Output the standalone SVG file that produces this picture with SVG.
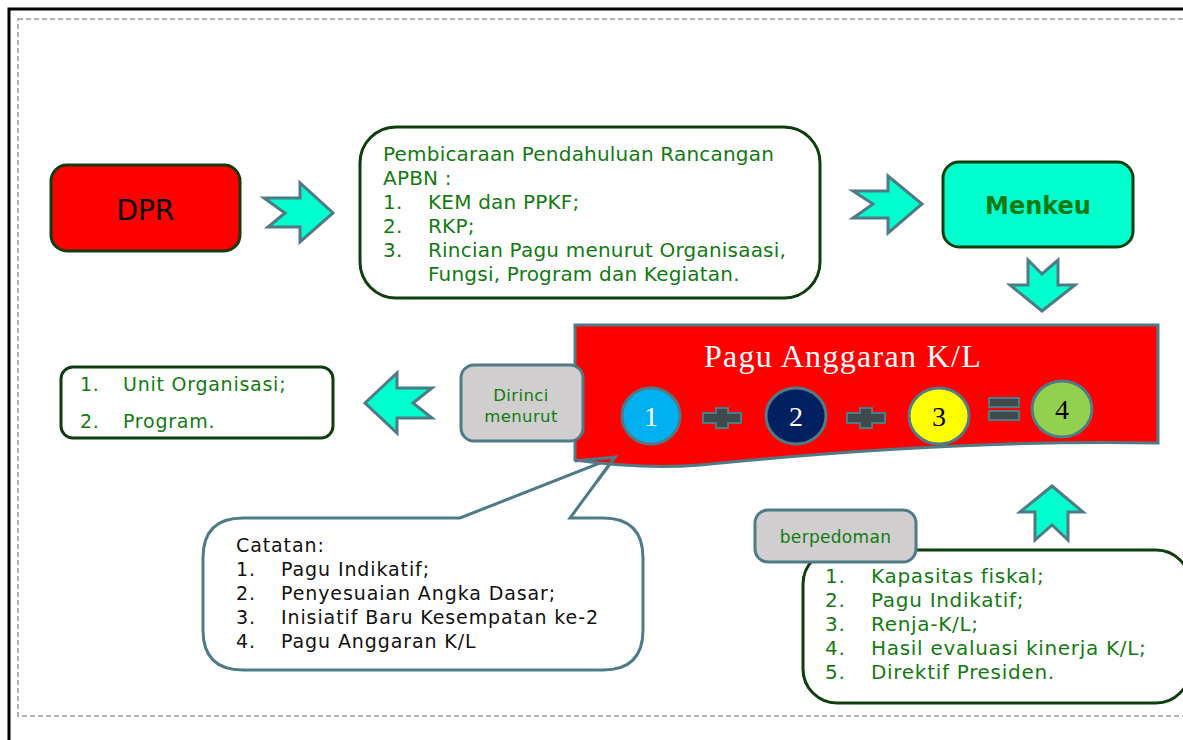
<svg xmlns="http://www.w3.org/2000/svg" width="1183" height="740" viewBox="0 0 1183 740">
<style>
.g{font-family:"DejaVu Sans",sans-serif;fill:#137a13;font-size:20px;letter-spacing:0.2px}
.r{font-family:"DejaVu Sans",sans-serif;fill:#137a13;font-size:20px;letter-spacing:0.7px}
.u{font-family:"DejaVu Sans",sans-serif;fill:#137a13;font-size:19px;letter-spacing:0.75px}
.k{font-family:"DejaVu Sans",sans-serif;fill:#111;font-size:19px;letter-spacing:0.9px}
.box{fill:#fff;stroke:#0e3d0e;stroke-width:3}
.arr{fill:#00ffcc;stroke:#4f7b86;stroke-width:3;stroke-linejoin:miter}
.gray{fill:#d0cece;stroke:#4f7b86;stroke-width:3}
.circ{stroke:#4f7b86;stroke-width:3}
.num{font-family:"Liberation Serif",serif;font-size:28px;text-anchor:middle}
.op{fill:#3f4a4c;stroke:#4f7b86;stroke-width:2}
</style>
<rect width="1183" height="740" fill="#fff"/>
<g id="frame">
<path d="M9,740 V9 H1183" fill="none" stroke="#000" stroke-width="3"/>
<rect x="18" y="19" width="1200" height="697" fill="none" stroke="#9a9a9a" stroke-width="1.5" stroke-dasharray="5 3"/>
</g>
<g id="catatan">
<path d="M243,518 H460 L615,457 L570,518 H603 Q643,518 643,558 V630 Q643,670 603,670 H243 Q203,670 203,630 V558 Q203,518 243,518 Z" fill="#fff" stroke="#4f7b86" stroke-width="3"/>
<text class="k" x="236" y="552">Catatan:</text>
<text class="k" x="236" y="576">1.</text><text class="k" x="281" y="576">Pagu Indikatif;</text>
<text class="k" x="236" y="600">2.</text><text class="k" x="281" y="600">Penyesuaian Angka Dasar;</text>
<text class="k" x="236" y="624">3.</text><text class="k" x="281" y="624">Inisiatif Baru Kesempatan ke-2</text>
<text class="k" x="236" y="648">4.</text><text class="k" x="281" y="648">Pagu Anggaran K/L</text>
</g>
<g id="dpr">
<rect x="51" y="165" width="189" height="86" rx="16" fill="#ff0000" stroke="#0e3d0e" stroke-width="3"/>
<text x="145.5" y="220" font-family="DejaVu Sans,sans-serif" font-size="28" text-anchor="middle" fill="#000">DPR</text>
</g>
<g id="pembicaraan">
<rect class="box" x="360" y="127" width="460" height="171" rx="36"/>
<text class="g" x="383" y="161">Pembicaraan Pendahuluan Rancangan</text>
<text class="g" x="383" y="185">APBN :</text>
<text class="g" x="383" y="209">1.</text><text class="g" x="428" y="209">KEM dan PPKF;</text>
<text class="g" x="383" y="233">2.</text><text class="g" x="428" y="233">RKP;</text>
<text class="g" x="383" y="257">3.</text><text class="g" x="428" y="257">Rincian Pagu menurut Organisaasi,</text>
<text class="g" x="428" y="281">Fungsi, Program dan Kegiatan.</text>
</g>
<g id="menkeu">
<rect x="943" y="162" width="190" height="85" rx="16" fill="#00ffcc" stroke="#0e3d0e" stroke-width="3"/>
<text x="1038" y="214" font-family="DejaVu Sans,sans-serif" font-size="24" font-weight="bold" text-anchor="middle" fill="#137a13">Menkeu</text>
</g>
<g id="pagu">
<path d="M575,325 H1158 V443 C1000,440 850,450 700,465 C650,469 610,465 575,460 Z" fill="#ff0000" stroke="#4f7b86" stroke-width="3"/>
<text x="843" y="367" font-family="Liberation Serif,serif" font-size="32" letter-spacing="1.3" text-anchor="middle" fill="#fff">Pagu Anggaran K/L</text>
<ellipse class="circ" cx="651" cy="416" rx="29" ry="28" fill="#00b0f0"/>
<text class="num" x="651" y="426" fill="#fff">1</text>
<path class="op" d="M703,413 H716 V408 H728 V413 H741 V423 H728 V428 H716 V423 H703 Z"/>
<ellipse class="circ" cx="796" cy="416" rx="30" ry="28" fill="#002060"/>
<text class="num" x="796" y="426" fill="#fff">2</text>
<path class="op" d="M847,413 H860 V408 H872 V413 H885 V423 H872 V428 H860 V423 H847 Z"/>
<ellipse class="circ" cx="939" cy="416" rx="30" ry="28" fill="#ffff00"/>
<text class="num" x="939" y="426" fill="#000">3</text>
<rect class="op" x="989" y="398" width="30" height="9"/>
<rect class="op" x="989" y="411" width="30" height="9"/>
<ellipse class="circ" cx="1062" cy="409" rx="30" ry="28" fill="#92d050"/>
<text class="num" x="1062" y="419" fill="#000">4</text>
</g>
<g id="dirinci">
<rect class="gray" x="461" y="365" width="122" height="76" rx="13"/>
<text x="521" y="401" font-family="DejaVu Sans,sans-serif" font-size="16.5" letter-spacing="0.4" text-anchor="middle" fill="#137a13">Dirinci</text>
<text x="521" y="422" font-family="DejaVu Sans,sans-serif" font-size="16.5" letter-spacing="0.4" text-anchor="middle" fill="#137a13">menurut</text>
</g>
<g id="unit">
<rect class="box" x="61" y="367" width="272" height="71" rx="12"/>
<text class="u" x="80" y="391">1.</text><text class="u" x="123" y="391">Unit Organisasi;</text>
<text class="u" x="80" y="428">2.</text><text class="u" x="123" y="428">Program.</text>
</g>
<g id="pedoman">
<rect class="box" x="803" y="550" width="387" height="153" rx="34"/>
<text class="r" x="825" y="583">1.</text><text class="r" x="871" y="583">Kapasitas fiskal;</text>
<text class="r" x="825" y="607">2.</text><text class="r" x="871" y="607">Pagu Indikatif;</text>
<text class="r" x="825" y="631">3.</text><text class="r" x="871" y="631">Renja-K/L;</text>
<text class="r" x="825" y="655">4.</text><text class="r" x="871" y="655">Hasil evaluasi kinerja K/L;</text>
<text class="r" x="825" y="679">5.</text><text class="r" x="871" y="679">Direktif Presiden.</text>
</g>
<g id="berpedoman">
<rect class="gray" x="755" y="510" width="161" height="52" rx="13"/>
<text x="835.5" y="543" font-family="DejaVu Sans,sans-serif" font-size="17" letter-spacing="0.3" text-anchor="middle" fill="#137a13">berpedoman</text>
</g>
<g id="connectors">
<polygon class="arr" points="264,198 300,198 300,183 333,213 300,242 300,227 268,227 285,213"/>
<polygon class="arr" points="853,191 888,191 888,176 922,204 888,233 888,218 853,218 873,204"/>
<polygon class="arr" points="1028,260 1042,274 1058,260 1058,285 1075,285 1042,311 1010,285 1028,285"/>
<polygon class="arr" points="365,403 397,373 397,388 432,388 413,403 432,418 397,418 397,433"/>
<polygon class="arr" points="1052,486 1083,512 1068,512 1068,540 1052,525 1035,540 1035,512 1020,512"/>
<polyline points="575,461 615,457 598,480" fill="none" stroke="#4f7b86" stroke-width="3"/>
</g>
</svg>
